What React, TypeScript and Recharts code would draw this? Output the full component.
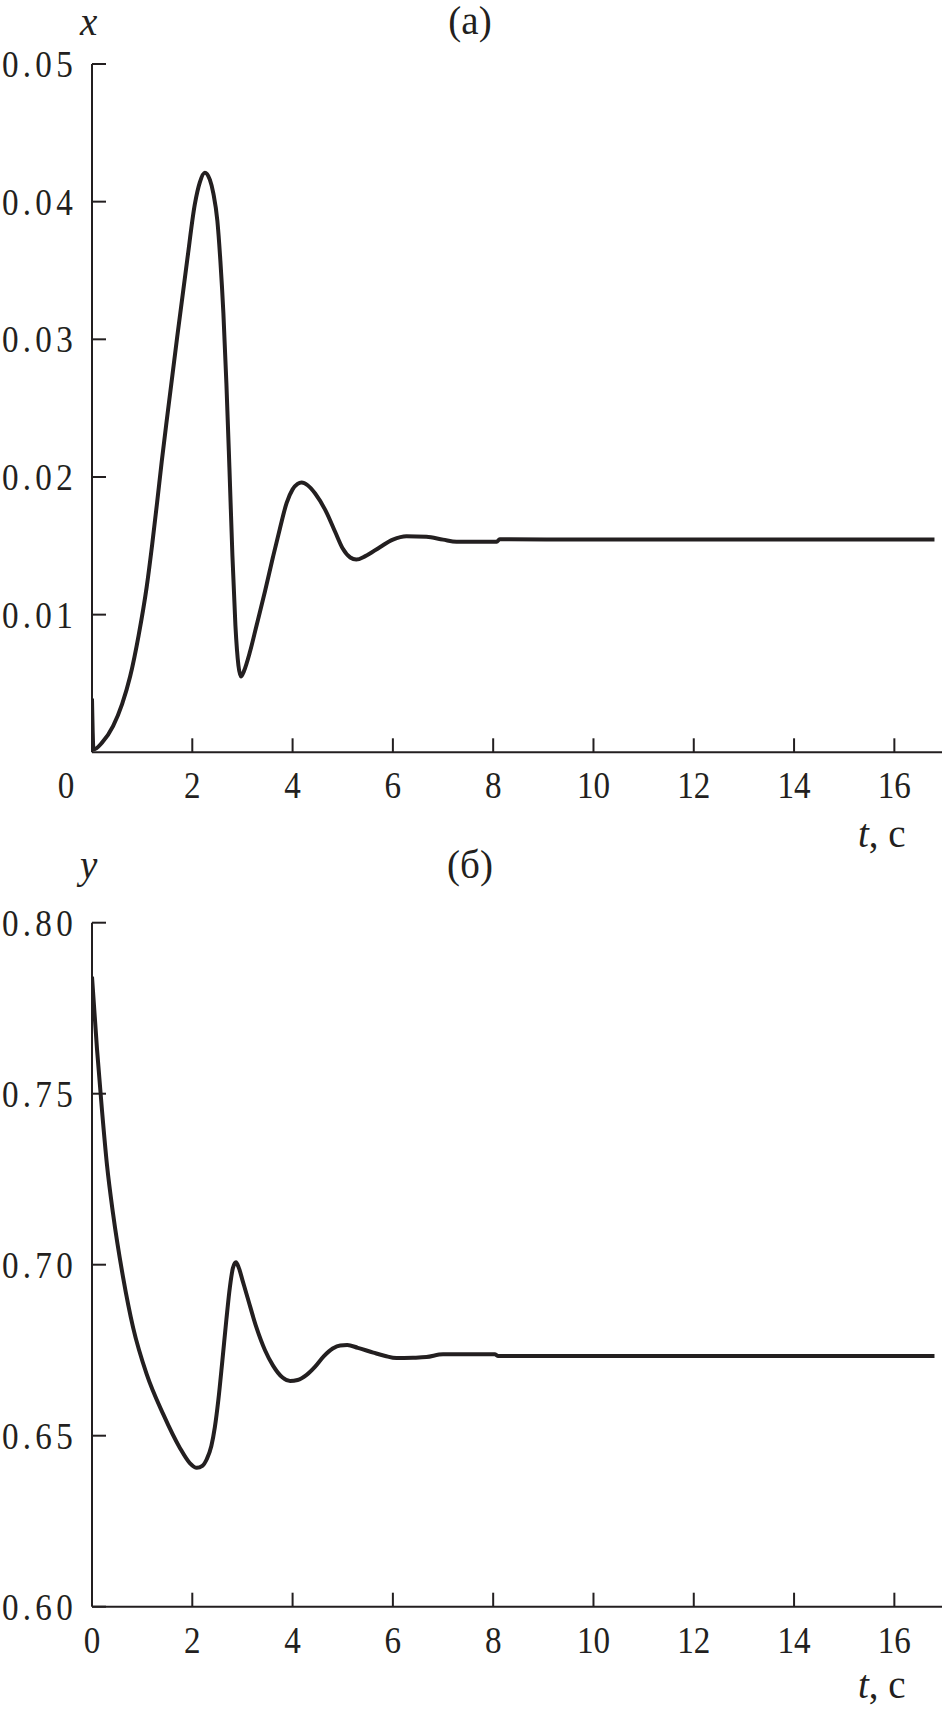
import { Line, LineChart, XAxis, YAxis } from "recharts";

// Two stacked transient plots: x(t) above, y(t) below.
const INK = "#231f20";
const FONT = '"Liberation Serif", "Times New Roman", serif';
const FONT_SIZE = 39;
const TICK_LEN = 14;
// tick numerals in the source are a narrow Times cut
const NUM_SCALE = 0.85;

const tTicks = [0, 2, 4, 6, 8, 10, 12, 14, 16];
const xTicks = [0.01, 0.02, 0.03, 0.04, 0.05];
const yTicks = [0.6, 0.65, 0.7, 0.75, 0.8];

// (а) x(t)
const tX = [
  0, 0.03, 0.2, 0.42, 0.6, 0.76, 0.93, 1.09, 1.2, 1.3, 1.39, 1.5, 1.7, 1.9, 2.05, 2.15, 2.25,
  2.35, 2.42, 2.5, 2.56, 2.62, 2.68, 2.74, 2.8, 2.86, 2.92, 2.97, 3.03, 3.15, 3.28, 3.45, 3.61,
  3.75, 3.88, 4.0, 4.1, 4.18, 4.3, 4.45, 4.68, 4.85, 5.0, 5.15, 5.27, 5.45, 5.74, 6.0, 6.27, 6.67,
  7.0, 7.27, 8.07, 8.13, 10, 12, 14, 16.8,
];
const xVals = [
  0.0039, 0.0002, 0.0007, 0.0019, 0.0035, 0.0055, 0.0085, 0.012, 0.0151, 0.0182, 0.0211,
  0.0244, 0.0302, 0.0358, 0.0398, 0.0414, 0.0421, 0.0416, 0.0406, 0.0386, 0.0357, 0.0319,
  0.0268, 0.0207, 0.0143, 0.0092, 0.0063, 0.0055, 0.0059, 0.0073, 0.0092, 0.0117, 0.0142,
  0.0163, 0.0181, 0.0191, 0.0195, 0.0196, 0.0194, 0.0188, 0.0174, 0.016, 0.0148, 0.01415, 0.014,
  0.01425, 0.0149, 0.01545, 0.0157, 0.01565, 0.01545, 0.0153, 0.0153, 0.01548, 0.01545, 0.01545,
  0.01545, 0.01545,
];

// (б) y(t)
const tY = [
  0, 0.1, 0.2, 0.3, 0.42, 0.62, 0.82, 1.09, 1.42, 1.75, 1.95, 2.09, 2.2, 2.29, 2.38, 2.45, 2.52,
  2.6, 2.68, 2.75, 2.81, 2.87, 2.93, 3.0, 3.1, 3.28, 3.45, 3.61, 3.8, 3.95, 4.1, 4.28, 4.45, 4.62,
  4.8, 4.95, 5.09, 5.3, 5.61, 5.85, 6.07, 6.4, 6.67, 7.0, 8.03, 8.1, 10, 12, 14, 16.8,
];
const yVals = [
  0.7842, 0.763, 0.745, 0.729, 0.7149, 0.6963, 0.6816, 0.668, 0.6563, 0.6465, 0.642, 0.6406,
  0.6412, 0.6432, 0.647, 0.6525, 0.6605, 0.672, 0.684, 0.6935, 0.699, 0.7007, 0.699, 0.6955,
  0.6905, 0.6816, 0.675, 0.6705, 0.667, 0.666, 0.6663, 0.6678, 0.6702, 0.6732, 0.6755, 0.6764,
  0.6765, 0.6757, 0.6743, 0.6733, 0.6727, 0.6728, 0.673, 0.6738, 0.6738, 0.6733, 0.6733, 0.6733,
  0.6733, 0.6733,
];

const xData = tX.map((t, i) => ({ t, v: xVals[i] }));
const yData = tY.map((t, i) => ({ t, v: yVals[i] }));

const textStyle = { fontFamily: FONT, fontSize: FONT_SIZE, fill: INK };

function YTick(props: any) {
  const { x, y, payload } = props;
  return (
    <g>
      <line x1={x} x2={x + TICK_LEN} y1={y} y2={y} stroke={INK} strokeWidth={2} />
      <text
        transform={`translate(${x - 15},${y + 13}) scale(${NUM_SCALE},1)`}
        textAnchor="end"
        letterSpacing={5}
        {...textStyle}
      >
        {Number(payload.value).toFixed(2)}
      </text>
    </g>
  );
}

function XTick(props: any) {
  const { x, y, payload, shiftZero } = props;
  const isZero = payload.value === 0;
  const tx = x + (isZero && shiftZero ? -26 : 0);
  return (
    <g>
      {!isZero && <line x1={x} x2={x} y1={y} y2={y - TICK_LEN} stroke={INK} strokeWidth={2} />}
      <text transform={`translate(${tx},${y + 46}) scale(${NUM_SCALE},1)`} textAnchor="middle" {...textStyle}>
        {payload.value}
      </text>
    </g>
  );
}

function Panel({
  data,
  yDomain,
  yTickValues,
  height,
  top,
  bottomPad,
  shiftZero,
}: {
  data: { t: number; v: number }[];
  yDomain: [number, number];
  yTickValues: number[];
  height: number;
  top: number;
  bottomPad: number;
  shiftZero: boolean;
}) {
  return (
    <LineChart width={942} height={height} data={data} margin={{ top, right: 0, bottom: 0, left: 0 }}>
      <XAxis
        dataKey="t"
        type="number"
        domain={[0, 16.95]}
        allowDataOverflow
        ticks={tTicks}
        interval={0}
        height={bottomPad}
        tickSize={0}
        tickMargin={0}
        tickLine={false}
        axisLine={{ stroke: INK, strokeWidth: 2 }}
        tick={(p: any) => <XTick {...p} shiftZero={shiftZero} />}
      />
      <YAxis
        type="number"
        domain={yDomain}
        allowDataOverflow
        ticks={yTickValues}
        interval={0}
        width={92}
        tickSize={0}
        tickMargin={0}
        tickLine={false}
        axisLine={{ stroke: INK, strokeWidth: 2 }}
        tick={(p: any) => <YTick {...p} />}
      />
      <Line
        type="monotone"
        dataKey="v"
        stroke={INK}
        strokeWidth={4}
        dot={false}
        isAnimationActive={false}
      />
    </LineChart>
  );
}

export default function App() {
  return (
    <div style={{ position: "absolute", left: 0, top: 0, width: 942, height: 1711, background: "#fff" }}>
      <div style={{ position: "absolute", left: 0, top: 0 }}>
        <Panel data={xData} yDomain={[0, 0.05]} yTickValues={xTicks} height={870} top={64} bottomPad={117.7} shiftZero />
      </div>
      <div style={{ position: "absolute", left: 0, top: 870 }}>
        <Panel data={yData} yDomain={[0.6, 0.8]} yTickValues={yTicks} height={841} top={52.7} bottomPad={104.3} shiftZero={false} />
      </div>
      <svg width={942} height={1711} style={{ position: "absolute", left: 0, top: 0, pointerEvents: "none" }}>
        <text x={80} y={35} fontStyle="italic" {...textStyle}>x</text>
        <text x={470} y={34} textAnchor="middle" {...textStyle}>(а)</text>
        <text x={858} y={847} {...textStyle}>
          <tspan fontStyle="italic">t</tspan>, с
        </text>
        <text x={80} y={878} fontStyle="italic" {...textStyle}>y</text>
        <text x={470} y={878} textAnchor="middle" {...textStyle}>(б)</text>
        <text x={858} y={1698} {...textStyle}>
          <tspan fontStyle="italic">t</tspan>, с
        </text>
      </svg>
    </div>
  );
}
